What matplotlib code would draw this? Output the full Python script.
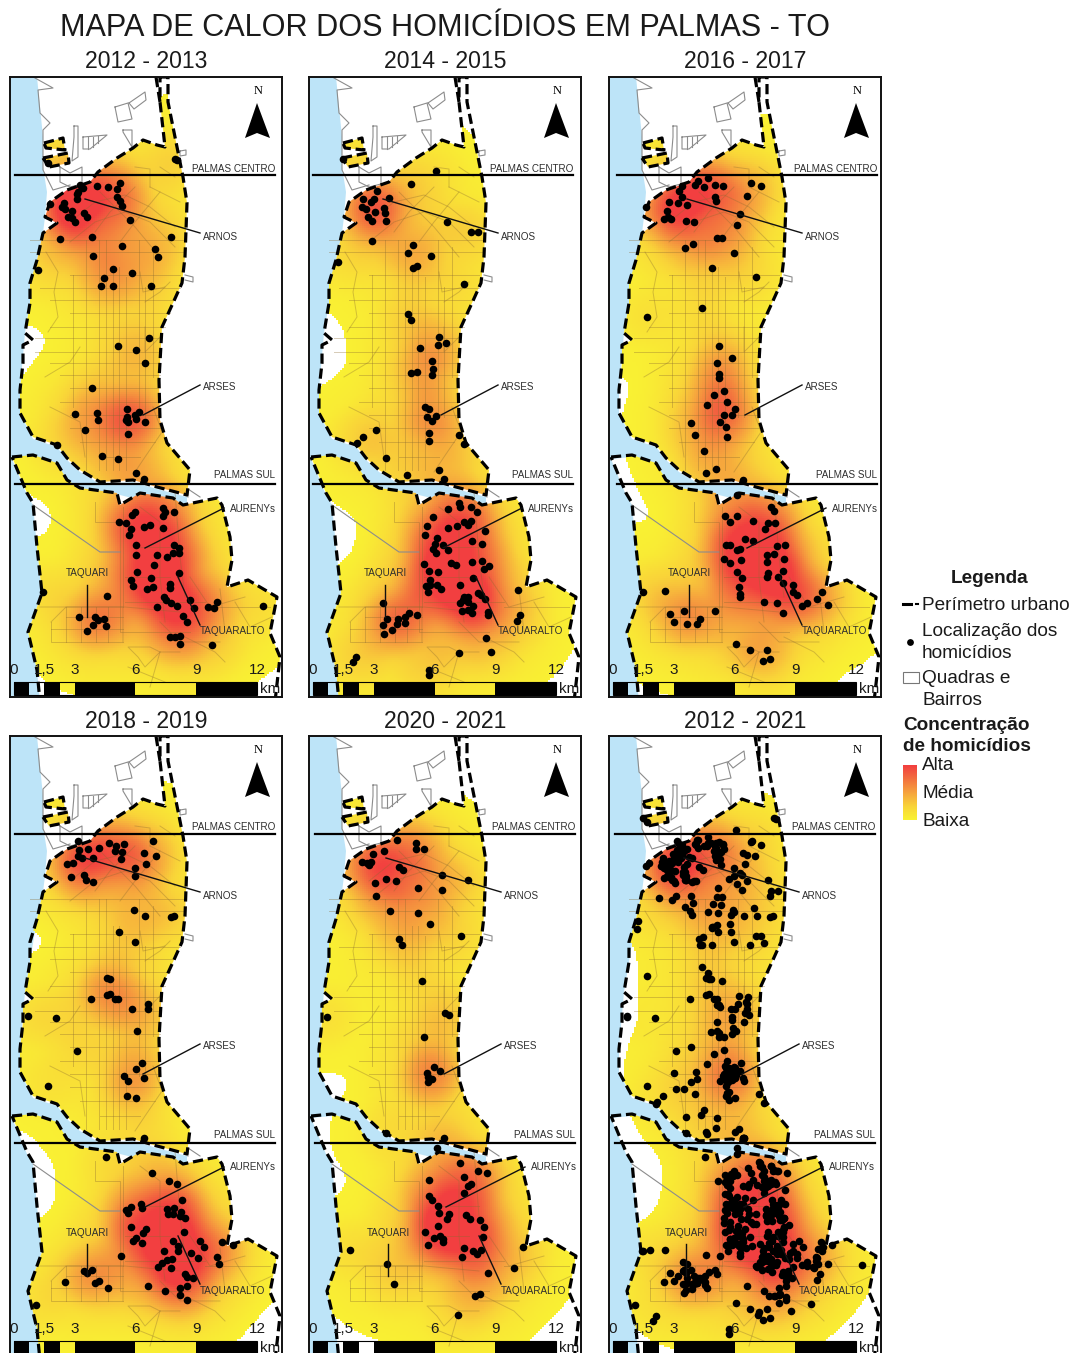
import numpy as np
import matplotlib
matplotlib.use("Agg")
import matplotlib.pyplot as plt
from matplotlib.colors import LinearSegmentedColormap
from matplotlib.patches import Polygon, Rectangle, PathPatch
from matplotlib.path import Path

plt.rcParams['font.family'] = ['Liberation Sans', 'DejaVu Sans']

######### Data: homicide locations, as crop pixels #########
# each block: (crop_x, crop_y, y_scale, [(x, y), ...])
H_2012_2013 = [
    (0, 70, 3.0, [(240,345),(250,355),(235,365),(230,372),(232,388),(290,347),(325,350),(350,358),(360,338),(350,380),
                  (360,392),(367,407),(150,402),(192,400),(185,412),(195,418),(215,423),(205,440),(225,455),(215,445),
                  (252,428),(260,441),(389,449),(180,507),(275,500),(367,528),(514,501),(464,537),(474,561),(280,559),
                  (338,596),(397,610),(313,624),(303,647),(338,647),(453,648),(113,600),(446,803),(354,829),(408,840),
                  (436,878),(525,268),(530,270),(145,280)]),
    (0, 380, 3.0, [(277,25),(380,87),(380,110),(378,120),(385,125),(405,105),(418,95),(408,118),(436,125),(292,100),
                   (293,121),(224,103),(255,151),(383,161),(172,195),(306,227),(355,237),(408,280),(432,298),
                   (405,395),(395,405),(490,383),(495,395),(488,407),(522,396),(358,427),(378,428),(392,446),(386,464),
                   (433,441),(450,435),(488,445),(407,496),(408,524),(522,494),(537,505),(537,518),(520,518),(470,525),
                   (501,531),(463,554),(411,577),(538,579),(393,601),(400,619),(453,594),(441,627),(460,620),(509,611),
                   (510,625),(491,650),(497,660),(512,670),(531,677),(471,680),(570,661),(582,684),(623,682),(642,685),
                   (650,666),(548,709),(560,727),(790,677),(322,648),(128,636),(238,711),(285,712),(293,720),(313,718),
                   (280,735),(318,739),(262,753),(510,772),(525,770),(540,768),(539,792),(636,795)]),
]
H_2014_2015 = [
    (305, 130, 3.0, [(115,88),(392,123),(319,161),(217,182),(252,204),(175,208),(207,207),(197,217),(170,230),(183,238),
                     (237,234),(240,250),(210,247),(190,262),(200,272),(243,273),(425,277),(497,307),(520,307),(201,334),
                     (325,345),(310,369),(378,377),(100,397),(335,408),(325,415),(478,462),(310,553),(318,570),(402,620),
                     (399,645),(422,640),(344,655),(382,693),(385,717),(382,734),(335,725),(318,729),(360,830),(372,838),
                     (365,862),(392,858),(381,874),(212,900),(173,921),(373,909),(373,934),(462,915),(476,941),(155,940),
                     (242,985),(307,1036),(402,1021),(416,1048)]),
    (305, 480, 3.0, [(463,70),(465,80),(430,88),(497,80),(515,95),(383,111),(497,122),(478,125),(488,135),(366,138),
                     (455,138),(428,145),(540,153),(360,166),(395,175),(390,192),(385,207),(392,220),(415,195),(430,210),
                     (500,182),(530,192),(357,252),(437,248),(453,255),(500,247),(530,243),(552,257),(537,266),(372,272),
                     (400,276),(505,295),(375,300),(362,318),(375,316),(368,335),(396,316),(407,328),(466,316),(520,340),
                     (527,345),(478,350),(490,350),(540,358),(475,360),(490,365),(465,370),(505,378),(470,394),(490,390),
                     (502,398),(550,395),(550,405),(640,330),(645,404),(637,424),(235,369),(335,406),(313,398),(300,412),
                     (300,428),(278,418),(275,432),(245,418),(233,434),(262,451),(238,463),(542,473),(463,518),(557,515),
                     (153,532),(145,545),(372,570),(372,585)]),
]
H_2016_2017 = [
    (605, 130, 2.75, [(310,132),(280,140),(270,152),(297,157),(355,153),(330,152),(437,147),(469,154),(230,155),(222,167),
                      (232,184),(330,185),(332,195),(425,181),(193,197),(218,200),(246,207),(123,211),(185,222),(190,240),
                      (178,245),(198,245),(243,250),(266,253),(405,230),(397,262),(337,297),(351,296),(264,313),(241,325),
                      (386,337),(320,380),(452,403),(292,489),(126,513),(341,593),(380,628),(337,640),(342,672),(342,682),
                      (358,718),(326,730),(305,755),(366,749),(390,767),(380,785),(358,785),(257,805),(345,804),(363,817),
                      (269,840),(365,844),(298,883),(333,933),(302,942),(415,962),(395,1005),(497,1037),(508,1048),(360,1062),
                      (395,1062),(375,1079),(445,1076),(490,1080),(510,1080),(480,1098),(420,1124),(445,1129),(362,1142),
                      (375,1142),(515,1145),(540,1141),(395,1155),(405,1152),(485,1168),(507,1167),(485,1187),(358,1179),
                      (375,1191),(408,1183),(395,1216),(537,1180),(410,1232),(490,1218),(485,1230),(535,1214),(520,1230),
                      (535,1245),(403,1258),(405,1275),(405,1285),(565,1250),(565,1270),(575,1278),(113,1271),(180,1268),
                      (650,1271),(637,1290),(670,1307),(605,1302),(592,1310),(477,1297),(517,1300),(535,1329),(331,1323),
                      (237,1323),(196,1331),(208,1353),(247,1358),(275,1359),(285,1345),(392,1413),(434,1429),(485,1429),
                      (473,1459),(496,1455)]),
]
H_2018_2019 = [
    (5, 790, 2.785, [(218,142),(443,143),(311,148),(358,150),(333,155),(282,161),(248,164),(223,168),(330,170),(350,172),
                     (417,176),(218,183),(230,188),(264,188),(348,193),(454,185),(185,205),(203,203),(424,207),(390,218),
                     (197,242),(236,236),(243,251),(263,256),(390,240),(388,333),(421,351),(498,353),(508,352),(341,396),
                     (391,424),(305,524),(315,525),(305,570),(315,567),(330,582),(340,583),(258,581),(381,610),(430,596),
                     (428,611),(70,630),(153,635),(395,672),(215,728),(410,760),(393,776),(417,801),(356,797),(368,810),
                     (130,823),(367,852),(394,858),(418,970),(303,1023),(442,1068),(493,1090),(517,1097),(530,1142),(378,1160),
                     (407,1152),(411,1165),(362,1170),(370,1178),(485,1167),(507,1163),(490,1180),(505,1182),(527,1175),
                     (525,1187),(540,1192),(378,1217),(422,1222),(415,1235),(392,1247),(385,1257),(410,1261),(538,1231),
                     (503,1257),(520,1270),(518,1285),(586,1256),(598,1273),(650,1258),(685,1268),(476,1284),(557,1290),
                     (578,1304),(637,1300),(642,1320),(348,1297),(500,1306),(485,1308),(470,1318),(458,1328),(498,1332),
                     (540,1348),(565,1359),(545,1355),(237,1340),(247,1345),(260,1337),(283,1367),(270,1372),(180,1370),
                     (308,1387),(430,1380),(545,1380),(525,1387),(480,1396),(525,1406),(545,1420),(92,1434)]),
]
H_2020_2021 = [
    (305, 790, 2.785, [(277,139),(333,147),(333,163),(358,165),(238,170),(205,178),(172,200),(185,203),(197,200),(192,210),
                       (282,215),(293,222),(412,237),(490,252),(243,248),(211,258),(273,253),(213,296),(340,274),(411,279),
                       (255,336),(340,343),(374,373),(469,407),(282,414),(290,433),(350,531),(420,620),(433,628),(65,632),
                       (356,689),(388,771),(405,783),(365,787),(368,800),(380,805),(368,812),(242,955),(416,968),(395,997),
                       (465,1040),(520,1060),(546,1068),(373,1087),(477,1078),(497,1097),(490,1102),(477,1122),(373,1130),
                       (382,1143),(400,1158),(402,1178),(432,1180),(425,1195),(483,1183),(494,1194),(525,1197),(537,1216),
                       (400,1213),(361,1230),(386,1247),(405,1243),(413,1250),(413,1260),(533,1244),(368,1266),(476,1276),
                       (470,1301),(527,1282),(505,1285),(515,1292),(655,1274),(135,1281),(628,1331),(246,1320),(548,1346),
                       (267,1376),(510,1409),(525,1405),(458,1463)]),
]

PANEL_TITLES = ["2012 - 2013", "2014 - 2015", "2016 - 2017", "2018 - 2019", "2020 - 2021", "2012 - 2021"]
PANEL_X = [10, 309, 609, 10, 309, 609]
PANEL_Y = [77, 77, 77, 736, 736, 736]
TITLE_Y = [61, 61, 61, 721, 722, 722]
PANEL_W, PANEL_H = 272, 620
LABEL_DX = [0, -1, 3, 0, 2, 0]       # the labels sit a little differently per panel
LINE_RIGHT = [265, 264, 268, 265, 266, 266]

SCALE_KM = [0, 1.5, 3, 6, 9, 12]
SCALE_LABELS = ["0", "1,5", "3", "6", "9", "12"]
SCALE_SOLID = [(0, 0.75), (1.5, 2.25), (3, 6), (9, 12)]

LEGEND_LEVELS = ["Alta", "Média", "Baixa"]

######### Map geometry, panel pixels #########
NORTH = [(150,0),(158,0),(158,25),(167,70),(173,100),(177,126),(175,180),(172,206),(163,226),(152,250),(149,303),
         (150,343),(157,366),(180,393),(177,418),(147,410),(123,403),(90,405),(70,393),(57,381),(47,368),(23,360),
         (10,336),(10,313),(13,286),(13,268),(23,263),(15,256),(20,226),(20,206),(27,183),(33,156),(47,146),(35,140),
         (40,125),(57,113),(80,105),(88,95),(107,81),(123,71),(133,63),(147,68),(155,70),(150,25)]
SOUTH = [(2,380),(23,378),(47,386),(57,403),(70,411),(107,416),(110,428),(130,416),(163,421),(173,428),(207,421),
         (212,428),(220,460),(222,483),(217,510),(238,503),(267,520),(260,556),(270,580),(265,625),(30,625),(27,593),
         (18,555),(32,516),(27,470),(23,426),(17,416)]
ISLAND_A = [(34,66),(53,61),(55,73),(36,71)]
ISLAND_B = [(33,81),(58,76),(59,86),(39,90)]
SPIKE_LEFT = [(146,0),(150,25)]
WATER = [(0,0),(27,0),(30,30),(33,60),(33,90),(37,115),(35,140),(33,156),(27,183),(15,256),(10,313),(10,336),(23,362),
         (47,370),(57,383),(70,395),(90,407),(123,405),(147,412),(177,420),(177,430),(150,428),(110,418),(70,413),
         (57,405),(47,388),(23,380),(2,382),(17,418),(23,428),(27,470),(32,516),(18,555),(27,593),(30,625),(0,625)]

GREY_LINES = [
    [(25,1),(43,11),(28,13),(30,36),(40,46),(33,53),(33,93),(43,113),(60,108)],
    [(119,26),(135,15),(136,23),(124,32),(119,26)],
    [(105,30),(118,26),(122,42),(108,45),(105,30)],
    [(113,53),(122,53),(122,70),(113,55),(113,53)],
    [(64,49),(68,49),(68,80),(62,84),(64,60),(64,49)],
    [(73,60),(97,58),(80,72),(73,72),(73,60)],
    [(78,60),(78,72)],[(83,60),(83,70)],[(88,59),(88,66)],
    [(50,90),(50,105),(60,110),(72,107),(72,90),(60,96),(50,90)],
    [(170,74),(176,73),(176,78),(170,79),(170,74)],
    [(175,198),(183,200),(183,205),(175,203)],
    [(23,428),(50,447),(90,475),(110,475)],
    [(178,420),(178,412),(190,420)],
]
STREET_V = [(63,198,330),(76,163,393),(89,163,393),(96,163,393),(103,190,393),(109,190,393),(116,200,393),
            (129,163,340),(135,210,340),(143,170,300)]
STREET_H = [(20,163,175),(20,175,175),(60,198,170),(30,211,170),(40,223,165),(60,236,160),(40,250,155),(25,261,150),
            (25,275,150),(40,286,150),(50,298,150),(60,311,150),(50,325,150),(60,338,150),(60,351,150),(70,365,145),
            (90,380,130)]
STREET_POLY = [
    [(36,175),(48,195),(44,215),(48,240),(38,255)],
    [(60,145),(85,125),(115,118),(140,130),(165,150)],
    [(60,165),(85,145),(115,135),(140,145),(165,170)],
    [(90,115),(125,150),(150,180)],[(125,110),(100,135),(85,155)],[(150,115),(125,145),(110,165)],
    [(140,110),(170,125)],[(125,90),(140,92),(140,110)],[(150,90),(165,100)],
    [(135,225),(150,215),(160,205)],[(130,195),(133,215),(155,210)],
    [(35,300),(60,285),(70,270)],[(40,330),(60,340),(70,345),(75,380)],
    [(135,250),(135,275),(150,260)],[(143,330),(152,355),(135,380),(125,395)],
    # south side
    [(85,425),(85,445),(110,445),(110,475),(110,555),(180,555)],
    [(113,430),(113,530)],[(130,430),(150,445),(150,500),(155,545)],[(165,415),(170,480),(175,520)],
    [(130,470),(170,470)],[(115,500),(160,500)],[(115,525),(195,525)],[(30,530),(115,530),(170,535)],
    [(41,545),(56,530),(113,530),(113,565)],[(41,545),(41,565),(113,565)],[(56,530),(56,565)],[(71,530),(71,565)],
    [(86,530),(86,565)],[(98,530),(98,565)],[(41,552),(113,552)],[(56,540),(113,540)],
    [(180,500),(200,530),(235,520)],[(195,530),(260,530)],[(210,512),(215,555)],[(225,525),(240,550),(262,540)],
    [(150,575),(135,590),(128,580),(118,570),(140,570),(150,575)],[(170,575),(150,575),(140,610)],[(175,560),(205,575),(215,585)],
    [(118,590),(155,605)],[(150,545),(170,565),(210,565)],
]

ARNOS_LINE = [(75,122),(190,156)]
ARSES_LINE = [(133,338),(190,308)]
AURENYS_LINE = [(135,471),(214,431)]
TAQUARALTO_LINE = [(168,500),(190,548)]
TAQUARI_LINE = [(77,508),(77,540)]
NORTH_ARROW = [(247,26),(235,61),(247,56),(260,61)]

DOT_COLOR = 'black'
WATER_COLOR = '#bde4f8'
STREET_COLOR = '#8a6a30'
heat_cmap = LinearSegmentedColormap.from_list(
    'heat', ['#f9f233', '#f9d339', '#f6a33e', '#f3713f', '#f23f40'])

TIGHT_RADIUS = 42.0     # local hot spots
BROAD_RADIUS = 85.0     # wide glow, also sets where the surface stops
TIGHT_SHARE = 0.55
PEAK_SHARE = 0.78
GAMMA = 0.85
HEAT_FLOOR = [0.012, 0.012, 0.006, 0.012, 0.014, 0.035]


def to_panel(blocks, x0, y0):
    pts = []
    for cx, cy, sy, raw in blocks:
        for zx, zy in raw:
            pts.append((cx + zx / 3.0 - x0, cy + zy / sy - y0))
    return np.array(pts)


def density(pts, radius):
    xs = np.arange(0, PANEL_W + 1, 2.0)
    ys = np.arange(0, PANEL_H + 6, 2.0)
    gx, gy = np.meshgrid(xs, ys)
    v = np.zeros_like(gx)
    for px, py in pts:
        d2 = ((gx - px) ** 2 + (gy - py) ** 2) / radius ** 2
        v += np.where(d2 < 1, (1 - d2) ** 2, 0)
    return v / v.max(), xs, ys


def draw_panel(fig, i, pts):
    x0, y0 = PANEL_X[i], PANEL_Y[i]
    ax = fig.add_axes([x0 / 1080, 1 - (y0 + PANEL_H) / 1353, PANEL_W / 1080, PANEL_H / 1353])
    ax.set_xlim(0, PANEL_W)
    ax.set_ylim(PANEL_H, 0)
    ax.set_xticks([])
    ax.set_yticks([])
    for s in ax.spines.values():
        s.set_linewidth(1.4)
        s.set_color('#111111')
        s.set_zorder(20)

    ax.add_patch(Polygon(WATER, closed=True, fc=WATER_COLOR, ec='none', zorder=1))

    # heat surface from the points, clipped to the urban area
    tight, xs, ys = density(pts, TIGHT_RADIUS)
    broad, _, _ = density(pts, BROAD_RADIUS)
    v = TIGHT_SHARE * tight + (1 - TIGHT_SHARE) * broad
    v = v / v.max()
    rgba = heat_cmap(np.clip(v / PEAK_SHARE, 0, 1) ** GAMMA)
    rgba[broad < HEAT_FLOOR[i], 3] = 0
    im = ax.imshow(rgba, extent=(xs[0] - 1, xs[-1] + 1, ys[-1] + 1, ys[0] - 1),
                   interpolation='nearest', aspect='auto', zorder=2)
    verts, codes = [], []
    for poly in (NORTH, SOUTH, ISLAND_A, ISLAND_B):
        verts += list(poly) + [poly[0]]
        codes += [Path.MOVETO] + [Path.LINETO] * (len(poly) - 1) + [Path.CLOSEPOLY]
    clip = PathPatch(Path(verts, codes), transform=ax.transData, fc='none', ec='none')
    ax.add_patch(clip)
    im.set_clip_path(clip)
    ax.set_xlim(0, PANEL_W)
    ax.set_ylim(PANEL_H, 0)

    for line in GREY_LINES:
        a = np.array(line)
        ax.plot(a[:, 0], a[:, 1], color='#8c8c8c', lw=0.8, zorder=3)
    for x, y1, y2 in STREET_V:
        ax.plot([x, x], [y1, y2], color=STREET_COLOR, lw=0.7, alpha=0.35, zorder=3)
    for x1, y, x2 in STREET_H:
        ax.plot([x1, x2], [y, y], color=STREET_COLOR, lw=0.7, alpha=0.35, zorder=3)
    for line in STREET_POLY:
        a = np.array(line)
        ax.plot(a[:, 0], a[:, 1], color=STREET_COLOR, lw=0.7, alpha=0.35, zorder=3)

    for poly in (NORTH, SOUTH, ISLAND_A, ISLAND_B):
        a = np.array(list(poly) + [poly[0]])
        ax.plot(a[:, 0], a[:, 1], color='black', lw=2.3, ls=(0, (3.2, 1.5)), zorder=4)
    a = np.array(SPIKE_LEFT)
    ax.plot(a[:, 0], a[:, 1], color='black', lw=2.3, ls=(0, (3.2, 1.5)), zorder=4)

    ax.scatter(pts[:, 0], pts[:, 1], s=30, c=DOT_COLOR, linewidths=0, zorder=5)

    # division lines and labels
    right = LINE_RIGHT[i]
    ax.plot([right - 260, right], [98, 98], color='black', lw=1.6, zorder=6)
    ax.plot([right - 260, right], [407, 407], color='black', lw=1.6, zorder=6)
    lab = dict(fontsize=7.1, color='#2e2e2e', zorder=7, va='center')
    ax.text(right, 91.5, "PALMAS CENTRO", ha='right', **lab)
    ax.text(right, 398.5, "PALMAS SUL", ha='right', **lab)
    dx = LABEL_DX[i]
    ax.text(193 + dx, 160, "ARNOS", ha='left', **lab)
    ax.text(193 + dx, 310, "ARSES", ha='left', **lab)
    ax.text(220 + dx, 431.5, "AURENYs", ha='left', **lab)
    ax.text(77 + dx, 496.5, "TAQUARI", ha='center', **lab)
    ax.text(190 + dx, 554.5, "TAQUARALTO", ha='left', **lab)
    for line in (ARNOS_LINE, ARSES_LINE, AURENYS_LINE, TAQUARALTO_LINE, TAQUARI_LINE):
        a = np.array(line)
        ax.plot(a[:, 0] + dx, a[:, 1], color='#111111', lw=1.0, zorder=6)

    ax.add_patch(Polygon(NORTH_ARROW, closed=True, fc='black', ec='none', zorder=7))
    ax.text(248, 14, "N", family=['Liberation Serif'], fontsize=9, ha='center', va='center', zorder=7)

    # scale bar
    km = lambda k: 4 + k * 20.25
    for a1, a2 in SCALE_SOLID:
        ax.add_patch(Rectangle((km(a1), 605), km(a2) - km(a1), 13, fc='black', ec='none', zorder=8))
    ax.add_patch(Rectangle((km(0), 605), km(12) - km(0), 13, fc='none', ec='black', lw=0.8, zorder=8))
    for k, t in zip(SCALE_KM, SCALE_LABELS):
        ax.text(km(k), 593, t, fontsize=11, ha='center', va='center', color='#1a1a1a', zorder=8)
    ax.text(260, 612, "km", fontsize=11, ha='center', va='center', color='#1a1a1a', zorder=8)
    return ax


fig = plt.figure(figsize=(10.8, 13.53), dpi=100, facecolor='white')

all_blocks = [H_2012_2013, H_2014_2015, H_2016_2017, H_2018_2019, H_2020_2021]
panel_points = []
for i, blocks in enumerate(all_blocks):
    panel_points.append(to_panel(blocks, PANEL_X[i], PANEL_Y[i]))
# the last panel is the whole decade, so it carries all the points
panel_points.append(np.vstack(panel_points))

for i, pts in enumerate(panel_points):
    draw_panel(fig, i, pts)

# overlay in figure pixels for the titles and legend
ov = fig.add_axes([0, 0, 1, 1], facecolor='none')
ov.set_xlim(0, 1080)
ov.set_ylim(1353, 0)
ov.axis('off')

ov.text(445, 28, "MAPA DE CALOR DOS HOMICÍDIOS EM PALMAS - TO", fontsize=22.1, ha='center', va='center', color='#1a1a1a')
for i, t in enumerate(PANEL_TITLES):
    ov.text(PANEL_X[i] + 136, TITLE_Y[i], t, fontsize=16.6, ha='center', va='center', color='#1a1a1a')

leg = dict(fontsize=13.7, va='center', color='#1a1a1a')
ov.text(990, 578.5, "Legenda", ha='center', fontweight='bold', **leg)
ov.plot([903, 911], [604, 604], color='black', lw=2.2)
ov.plot([916, 918], [604, 604], color='black', lw=1.5)
ov.text(922, 605.5, "Perímetro urbano", **leg)
ov.scatter([910], [642], s=24, c='black', linewidths=0)
ov.text(922, 632, "Localização dos", **leg)
ov.text(922, 653.5, "homicídios", **leg)
ov.add_patch(Rectangle((903, 672), 16, 11, fc='white', ec='#777777', lw=0.8))
ov.text(922, 678.5, "Quadras e", **leg)
ov.text(922, 700.5, "Bairros", **leg)
ov.text(903, 725.5, "Concentração", ha='left', fontweight='bold', **leg)
ov.text(903, 746.5, "de homicídios", ha='left', fontweight='bold', **leg)
ov.imshow(np.linspace(1, 0, 64).reshape(-1, 1), cmap=heat_cmap, extent=(903, 917, 820, 765), aspect='auto', zorder=2)
ov.set_xlim(0, 1080)
ov.set_ylim(1353, 0)
for t, y in zip(LEGEND_LEVELS, [765, 793, 822]):
    ov.text(922, y, t, **leg)

fig.savefig("out.png", dpi=100)
